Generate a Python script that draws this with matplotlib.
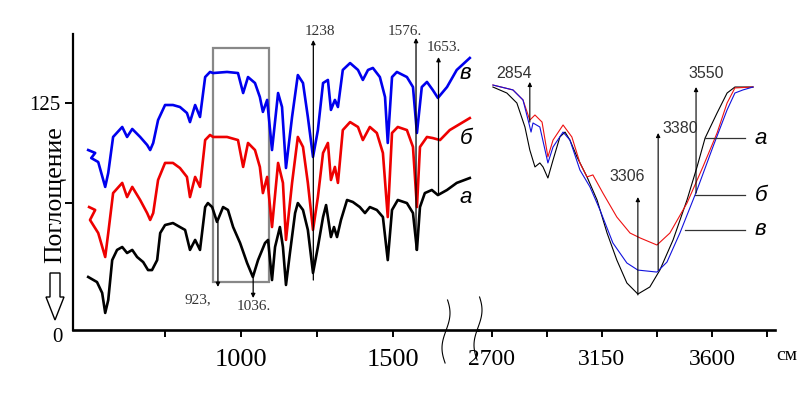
import numpy as np
import matplotlib
matplotlib.use("Agg")
import matplotlib.pyplot as plt
from matplotlib.lines import Line2D
from matplotlib.patches import Polygon, Rectangle

# ---- left part (fingerprint region), curves a / б / в ----
wn_a = [497, 526, 543, 553, 563, 576, 592, 609, 625, 642, 658, 678, 694, 707, 724, 734, 750, 776, 799,
        816, 832, 849, 865, 882, 891, 905, 921, 941, 957, 974, 997, 1020, 1039, 1056, 1079, 1089, 1102,
        1112, 1128, 1138, 1148, 1161, 1178, 1187, 1204, 1220, 1237, 1253, 1270, 1280, 1296, 1306, 1316,
        1329, 1349, 1368, 1391, 1408, 1424, 1447, 1467, 1483, 1497, 1516, 1546, 1566, 1579, 1589, 1605,
        1628, 1648, 1678, 1710, 1753]
abs_a = [29.2, 26.4, 20.4, 9.4, 16.5, 38.5, 44.1, 45.7, 42.4, 44.1, 40.2, 37.4, 33.0, 33.0, 38.5, 53.4,
         57.8, 58.9, 56.7, 55.1, 44.1, 49.6, 44.1, 67.7, 69.9, 67.7, 59.5, 67.7, 66.1, 56.7, 47.9, 36.9,
         29.2, 38.5, 47.9, 49.6, 27.5, 45.7, 56.7, 45.7, 24.8, 42.4, 64.4, 69.9, 66.1, 55.1, 31.4, 45.7,
         62.2, 68.8, 51.2, 56.7, 51.2, 60.6, 71.6, 70.5, 67.7, 64.4, 67.7, 66.1, 62.2, 38.5, 66.1, 71.6,
         69.9, 64.4, 44.1, 67.7, 75.4, 77.1, 74.3, 77.1, 81.0, 83.7]

wn_b = [500, 520, 503, 530, 553, 563, 579, 609, 625, 642, 668, 691, 701, 711, 727, 750, 776, 799, 822,
        832, 849, 865, 882, 898, 908, 954, 990, 1007, 1023, 1046, 1062, 1072, 1086, 1102, 1122, 1138,
        1148, 1168, 1187, 1204, 1220, 1237, 1253, 1270, 1286, 1296, 1309, 1319, 1335, 1359, 1385, 1401,
        1424, 1447, 1467, 1483, 1497, 1516, 1546, 1566, 1579, 1589, 1612, 1631, 1655, 1687, 1753]
abs_b = [67.7, 66.1, 60.6, 53.4, 40.2, 53.4, 75.4, 81.0, 73.2, 78.8, 71.6, 64.4, 60.6, 64.4, 82.6, 92.0,
         92.0, 89.2, 84.3, 73.2, 84.3, 78.8, 104.6, 107.4, 106.3, 106.3, 104.6, 89.8, 103.0, 99.1, 89.8,
         75.4, 84.3, 56.7, 92.0, 81.0, 49.6, 81.0, 106.3, 100.8, 81.0, 55.1, 73.2, 97.5, 103.0, 82.6,
         89.8, 81.0, 110.1, 114.5, 111.8, 104.6, 111.8, 108.5, 97.5, 62.2, 108.5, 111.8, 110.1, 100.8,
         67.7, 100.8, 106.3, 105.7, 104.6, 110.1, 116.7]

wn_v = [497, 520, 507, 530, 553, 563, 579, 609, 625, 642, 668, 691, 701, 711, 727, 750, 776, 799, 822,
        832, 849, 865, 882, 898, 908, 954, 990, 1007, 1023, 1046, 1062, 1072, 1086, 1102, 1122, 1135,
        1148, 1168, 1187, 1204, 1220, 1237, 1253, 1270, 1286, 1296, 1309, 1319, 1335, 1359, 1385, 1401,
        1418, 1434, 1457, 1474, 1483, 1497, 1513, 1546, 1566, 1579, 1595, 1612, 1631, 1648, 1678, 1710,
        1753]
abs_v = [99.1, 97.5, 94.7, 92.5, 78.8, 86.5, 106.3, 111.8, 106.3, 110.7, 106.3, 101.9, 99.1, 103.0,
         115.6, 123.9, 123.9, 122.8, 119.5, 114.5, 123.9, 117.3, 139.3, 142.1, 141.5, 142.1, 141.5, 130.5,
         139.3, 136.0, 128.3, 120.1, 126.7, 99.1, 130.5, 122.8, 89.2, 117.3, 140.4, 136.0, 117.3, 95.3,
         110.1, 136.0, 137.7, 121.2, 126.7, 122.8, 143.2, 147.0, 143.2, 137.7, 143.2, 144.3, 139.3, 128.3,
         103.0, 139.3, 142.1, 139.3, 133.8, 108.5, 133.8, 136.6, 132.2, 127.8, 133.8, 143.2, 149.8]

# ---- right part (OH / CH stretching region) ----
wn2_a = [2704, 2761, 2802, 2835, 2855, 2876, 2896, 2909, 2929, 2950, 2978, 2999, 3019, 3048, 3089, 3130,
         3171, 3211, 3252, 3297, 3346, 3387, 3441, 3498, 3539, 3572, 3621, 3662, 3694, 3768]
abs2_a = [133.8, 130.5, 125.0, 111.8, 99.1, 89.8, 92.0, 89.8, 83.7, 93.6, 106.3, 109.0, 104.6, 95.3,
          84.3, 71.6, 53.4, 38.5, 25.9, 19.8, 23.7, 33.0, 49.6, 71.6, 89.8, 105.7, 119.5, 130.5, 133.8,
          133.8]

wn2_b = [2704, 2786, 2827, 2855, 2876, 2905, 2929, 2950, 2991, 3027, 3060, 3089, 3113, 3154, 3211, 3265,
         3306, 3375, 3428, 3498, 3563, 3621, 3662, 3694, 3768]
abs2_b = [134.9, 132.2, 126.7, 115.6, 118.4, 114.5, 95.3, 104.6, 112.9, 106.3, 92.0, 84.3, 85.4, 75.4,
          62.2, 53.4, 50.7, 46.8, 53.4, 69.9, 89.8, 108.5, 125.0, 133.3, 133.8]

wn2_v = [2704, 2786, 2827, 2851, 2860, 2868, 2896, 2929, 2950, 2991, 3019, 3060, 3101, 3142, 3195, 3252,
         3297, 3375, 3416, 3469, 3539, 3604, 3662, 3694, 3727, 3768]
abs2_v = [134.9, 132.2, 126.7, 114.0, 109.0, 114.0, 111.8, 92.0, 100.8, 109.0, 104.6, 88.1, 78.8, 66.1,
          47.9, 36.9, 33.0, 31.9, 37.4, 53.4, 77.1, 100.8, 121.2, 130.5, 132.2, 133.8]

serif = "Liberation Serif"
sans = "Liberation Sans"

W, H = 800, 399


def fx(px):
    return px / W


def fy(py):
    return 1 - py / H


fig = plt.figure(figsize=(8, 3.99), dpi=100)
ax1 = fig.add_axes([fx(73), fy(330), fx(478) - fx(73), fy(34) - fy(330)])
ax2 = fig.add_axes([fx(478), fy(330), fx(775) - fx(478), fy(34) - fy(330)])

ax1.plot(wn_a, abs_a, color="black", lw=1.9)
ax1.plot(wn_b, abs_b, color="#ee0000", lw=1.9)
ax1.plot(wn_v, abs_v, color="#0000ee", lw=1.9)

ax2.plot(wn2_a, abs2_a, color="black", lw=0.8)
ax2.plot(wn2_b, abs2_b, color="#ee1111", lw=0.8)
ax2.plot(wn2_v, abs2_v, color="#1111dd", lw=0.8)

ax1.set_xlim(447, 1780)
ax2.set_xlim(2643, 3858)
for ax in (ax1, ax2):
    ax.set_ylim(0, 163)
    ax.patch.set_alpha(0)
    for s in ("top", "right"):
        ax.spines[s].set_visible(False)
    ax.spines["bottom"].set_linewidth(1.9)
    ax.tick_params(axis="x", direction="out", length=5, width=1.4, pad=9)

ax1.spines["left"].set_linewidth(1.6)
ax2.spines["left"].set_visible(False)
ax2.set_yticks([])

ax1.set_xticks([750, 1000, 1250, 1500])
ax1.set_xticklabels(["", "1000", "", "1500"], family=serif, fontsize=19)
ax2.set_xticks([2700, 2925, 3150, 3375, 3600, 3825])
ax2.set_xticklabels(["2700", "", "3150", "", "3600", ""], family=serif, fontsize=17)

ax1.set_yticks([70, 125])
ax1.set_yticklabels(["", "125"], family=serif, fontsize=15)
ax1.tick_params(axis="y", direction="out", length=6, width=1.4, pad=3)
fig.text(fx(57), fy(338), "0", family=serif, fontsize=15, ha="center", va="center")

# y label with hollow arrow
fig.text(fx(55), fy(195), "Поглощение", family=serif, fontsize=18.5, rotation=90,
         ha="center", va="center")
arrow_pts = [(50, 273), (60, 273), (60, 297), (64, 297), (55, 320), (46, 297), (50, 297)]
fig.patches.append(Polygon([(fx(x), fy(y)) for x, y in arrow_pts], closed=True,
                           transform=fig.transFigure, facecolor="white", edgecolor="black", lw=1))

# box around 900-1090 region
ax1.add_patch(Rectangle((908, 26.4), 184, 128.9, fill=False, edgecolor="#888888", lw=1.6))


def arrow(ax, x, y0, y1, lw=0.9):
    ax.annotate("", xy=(x, y1), xytext=(x, y0), annotation_clip=False,
                arrowprops=dict(arrowstyle="-|>", lw=lw, color="black",
                                mutation_scale=6, shrinkA=0, shrinkB=0))


# peak marks, left part
arrow(ax1, 924, 59.5, 23.7)
arrow(ax1, 1040, 29.2, 17.6)
arrow(ax1, 1238, 27.5, 159.7)
arrow(ax1, 1576, 44.1, 160.8)
arrow(ax1, 1650, 74.3, 150.3)
ax1.text(859, 16.5, "923,", family=serif, fontsize=11, ha="center", va="center", color="#333333")
ax1.text(1043, 12.7, "1036.", family=serif, fontsize=11, ha="center", va="center", color="#333333")
ax1.text(1260, 164.5, "1238", family=serif, fontsize=11, ha="center", va="center", color="#333333",
         clip_on=False)
ax1.text(1595, 164.5, "1576.", family=serif, fontsize=11, ha="right", va="center", color="#333333",
         clip_on=False)
ax1.text(1612, 155.8, "1653.", family=serif, fontsize=11, ha="left", va="center", color="#333333",
         clip_on=False)

for lab, yy in (("в", 141.5), ("б", 105.7), ("а", 72.7)):
    ax1.text(1740, yy, lab, family=sans, style="italic", fontsize=16, ha="center", va="center")

# peak marks, right part
arrow(ax2, 2855, 114.5, 136.6, lw=0.8)
arrow(ax2, 3297, 19.3, 73.2, lw=0.8)
arrow(ax2, 3380, 33.0, 108.5, lw=0.8)
arrow(ax2, 3535, 75.4, 133.8, lw=0.8)
ax2.text(2790, 141.5, "2854", family=sans, fontsize=11.5, ha="center", va="center", color="#333333")
ax2.text(3252, 84.3, "3306", family=sans, fontsize=11.5, ha="center", va="center", color="#333333")
ax2.text(3469, 111.2, "3380", family=sans, fontsize=11.5, ha="center", va="center", color="#333333")
ax2.text(3576, 141.5, "3550", family=sans, fontsize=11.5, ha="center", va="center", color="#333333")

for lab, x0, yy in (("а", 3572, 105.7), ("б", 3531, 74.3), ("в", 3490, 55.1)):
    ax2.plot([x0, 3735], [yy, yy], color="#333333", lw=0.9)
    ax2.text(3800, yy, lab, family=sans, style="italic", fontsize=16, ha="center", va="center")

fig.text(fx(776), fy(355), "см", family=[serif, "DejaVu Serif"], fontsize=14, ha="left", va="center")

# axis break squiggles
t = np.linspace(0, 1, 40)
for xc, y0 in ((446, 300), (478, 297)):
    xs = xc + 4 * np.sin(2 * np.pi * t * 0.9 + 0.4)
    ys = y0 + 63 * t
    fig.lines.append(Line2D(fx(xs), fy(ys), transform=fig.transFigure, color="black", lw=0.8))

fig.savefig("out.png", dpi=100)
